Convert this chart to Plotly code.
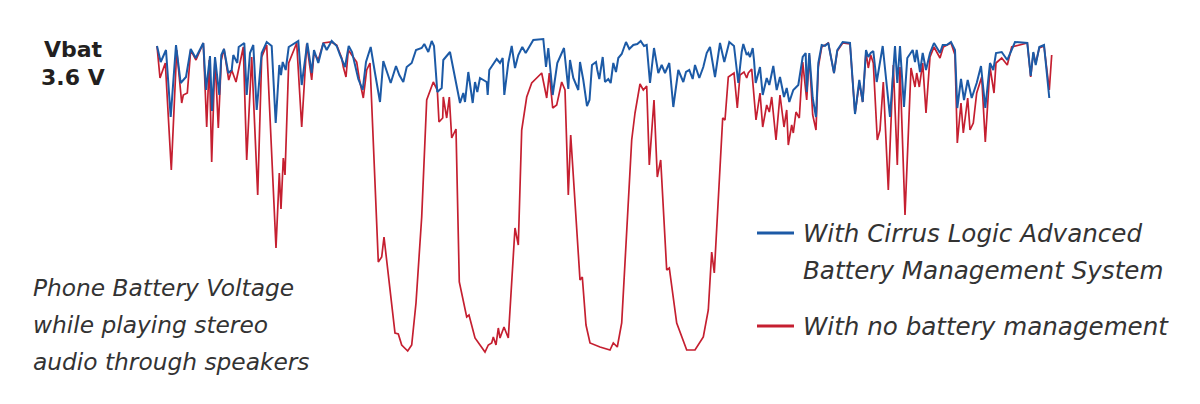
import plotly.graph_objects as go

# battery voltage traces
# t = sample position, sag = drop below the 3.6 V line (same arbitrary units)

bms_t = [
    157, 160.7, 166, 170.7, 176, 180.7, 186, 190.7, 195.7, 203.3, 206, 210, 212, 215, 219.3,
    221.3, 224, 228.3, 231.7, 233.3, 237.3, 238.7, 244.3, 246.7, 250, 253.3, 256.7, 261.7,
    266.7, 271.7, 275.7, 279.3, 281, 282.7, 285.7, 288.7, 298.3, 301.7, 307.3, 311.7, 314,
    318.3, 323.3, 326.7, 331.7, 336.7, 340, 345, 348.7, 352, 358.3, 362.7, 366, 370.7, 375,
    380, 383.3, 390.7, 396, 399.3, 403.3, 406.7, 411.7, 416, 421.7, 424.3, 428.3, 431.7, 434,
    437.3, 441.7, 443.3, 450, 455, 460, 463.3, 465, 468.3, 472.7, 475, 477.3, 480, 486.7,
    487.7, 489.3, 496.7, 500, 502.7, 504.3, 508.3, 511.7, 515, 518.3, 522.3, 525.7, 533.3,
    543.3, 546, 548.3, 550.7, 552.7, 557.3, 564, 568.3, 570, 573.3, 578.3, 580, 583.3, 587,
    589.5, 592, 596, 597.3, 599.3, 602.7, 605, 608.3, 610.7, 613.3, 616, 618.3, 621.7, 626,
    629.3, 633.3, 637.3, 640.7, 644, 646.7, 650, 654, 658.3, 661.7, 665, 669.3, 673.3, 678.3,
    683.3, 686, 689.3, 692.7, 695, 699.3, 703.3, 706.7, 710, 715, 720, 724.3, 729.3, 734,
    738.3, 741.7, 743.3, 746.7, 748.3, 750, 752.7, 754, 755.7, 760, 762.7, 766.7, 769.3,
    773.3, 776.7, 780, 784, 786.7, 789.3, 793.3, 798.3, 802.7, 805.7, 806.7, 809.3, 812.7,
    816, 818.3, 821.7, 825, 828.3, 834, 837.3, 842.7, 850, 855, 859.3, 862.7, 866, 868.3,
    870.7, 873.3, 876.7, 882.7, 890, 895, 897.3, 900, 904, 907.3, 912.7, 915, 916.7, 920,
    922.7, 926, 930, 934, 937.3, 940, 942.7, 946.7, 951, 955, 957.3, 961, 964, 967.7, 971.7,
    976.7, 981, 985.3, 990, 993.3, 996, 1001.7, 1007.3, 1015, 1027.3, 1030.7, 1033.3,
    1035.7, 1039.3, 1044, 1049.3,
]
bms_sag = [
    46, 62, 50, 117, 45, 83, 77, 49, 58, 43, 90, 56, 111, 57, 95,
    55, 49, 73, 70, 55, 63, 47, 43, 95, 53, 45, 110, 53,
    42, 46, 123, 65, 75, 62, 70, 47, 41, 85, 43, 73, 50,
    63, 43, 50, 41, 46, 55, 67, 46, 52, 79, 90, 62, 47, 73,
    102, 61, 83, 66, 75, 82, 67, 63, 50, 48, 44, 52, 41, 46,
    92, 88, 60, 52, 77, 103, 93, 102, 72, 103, 82, 92, 78, 82,
    95, 70, 59, 63, 58, 95, 63, 46, 68, 55, 47, 53, 40,
    39, 67, 48, 73, 95, 63, 48, 89, 60, 78, 90, 62, 80, 106,
    100, 65, 62, 70, 79, 57, 82, 79, 83, 63, 72, 58, 54, 42,
    49, 45, 44, 41, 46, 45, 83, 48, 73, 65, 73, 63, 107, 70,
    82, 72, 70, 79, 65, 78, 67, 53, 47, 77, 43, 62, 42, 46,
    83, 52, 44, 55, 53, 57, 48, 60, 83, 67, 95, 78, 85,
    66, 90, 77, 97, 88, 102, 90, 85, 57, 53, 92, 53, 98,
    117, 63, 45, 46, 43, 73, 50, 42, 43, 114, 80, 102, 50, 57,
    53, 51, 82, 46, 117, 46, 83, 46, 107, 58, 50, 62, 50, 72,
    53, 70, 53, 43, 48, 53, 45, 45, 42, 50, 108, 79, 100, 80, 98,
    83, 66, 108, 63, 70, 53, 52, 60, 42, 43, 76, 52,
    65, 47, 45, 98,
]

none_t = [
    157, 160, 165.3, 171.3, 176.7, 181.7, 183.3, 187.3, 190.7, 196, 203.3, 206.7, 209.3,
    211.7, 215, 218.3, 221.3, 224, 228.7, 231.7, 236, 243.3, 246.7, 251.7, 257.7, 261.7,
    266.7, 276, 279.3, 281, 283.3, 285, 288.7, 296.7, 301.7, 306.7, 311.7, 314, 318.3, 323.3,
    331, 336.7, 341.7, 343.3, 346, 348.3, 356.7, 359.3, 363.3, 366.7, 370, 378.3, 381.7, 384,
    395, 398.3, 401.7, 407.7, 411.7, 416, 421.7, 426.7, 433.3, 437.3, 439, 442.7, 443.3,
    446.7, 449.3, 451.7, 456, 459.3, 466.7, 469, 475, 485, 488.3, 491.7, 493.3, 496, 498.3,
    500, 504, 508.3, 515, 518.3, 521.7, 526.7, 531.7, 541.7, 546.7, 549.3, 552.7, 556.7,
    561.7, 565, 568.3, 570.7, 580, 582.3, 586, 590, 600, 610, 613.3, 617.3, 621.7, 626.7,
    631.7, 635, 640, 643.3, 646.7, 649.3, 654, 657.3, 660.7, 666.7, 669.3, 676.7, 686.7, 695,
    703.3, 708.3, 711.7, 714.3, 720, 722.7, 725, 728.3, 734, 737.3, 740, 744, 746.7, 748.3,
    751.7, 753.3, 756, 760, 762.7, 766.7, 769.3, 771.7, 776, 780, 784, 786.7, 788.3, 791.7,
    793.3, 796, 799.3, 802.7, 806.7, 809.3, 812.7, 816, 818.3, 821.7, 828.3, 834, 837.3,
    842.7, 850, 855, 859.3, 862.7, 866, 868.3, 870.7, 873.3, 877.3, 880, 883.3, 888.3, 893.3,
    897.3, 900, 905, 911, 915, 916.7, 919.3, 922.7, 926, 930, 934, 940, 943.3, 951, 955,
    957.3, 961, 963.3, 967.7, 970, 973.3, 976.7, 981.7, 985.3, 990, 994, 996, 1001.7, 1007.3,
    1011.7, 1027.3, 1030.7, 1033.3, 1035.7, 1039.3, 1044, 1049.3, 1051.7,
]
none_sag = [
    46, 78, 63, 170, 50, 103, 95, 93, 50, 60, 43, 127, 60,
    162, 57, 128, 60, 49, 80, 70, 82, 47, 160, 57, 195, 57,
    45, 248, 173, 209, 158, 175, 63, 43, 127, 44, 80, 53, 60, 43,
    42, 45, 58, 67, 77, 50, 62, 79, 98, 70, 63, 262, 257, 237,
    333, 334, 345, 351, 345, 303, 217, 100, 82, 90, 122, 118, 97,
    118, 97, 138, 129, 282, 317, 315, 338, 352, 345, 343, 337, 345, 328,
    338, 327, 338, 228, 245, 130, 97, 83, 73, 98, 73, 108, 105,
    82, 90, 195, 135, 280, 277, 325, 343, 347, 350, 343, 347, 323, 230,
    140, 113, 84, 90, 86, 165, 100, 177, 160, 270, 268, 323, 350, 350,
    337, 310, 252, 273, 173, 118, 120, 77, 73, 108, 75, 72, 78, 73,
    69, 90, 120, 93, 127, 105, 112, 97, 140, 95, 127, 110, 145, 125,
    133, 112, 118, 62, 100, 55, 115, 130, 67, 47, 43, 73, 51,
    43, 44, 114, 83, 102, 52, 68, 55, 63, 140, 130, 82, 190, 65,
    165, 67, 215, 68, 87, 73, 87, 63, 113, 57, 47, 58, 47, 43, 55,
    143, 103, 133, 98, 130, 123, 93, 77, 142, 67, 93, 63, 58, 65,
    47, 43, 77, 53, 63, 48, 46, 90, 55,
]

vbat_lines = ['Vbat', '3.6 V']
caption_lines = [
    'Phone Battery Voltage',
    'while playing stereo',
    'audio through speakers',
]
bms_label = ['With Cirrus Logic Advanced', 'Battery Management System']
none_label = ['With no battery management']

BLUE = '#1c5aa6'
RED = '#c51f30'
INK = '#231f20'
FONT = 'DejaVu Sans'
W, H = 1200, 404
OFF = 8   # the page body has an 8px margin


def px(x, y):
    # window pixel -> paper coords
    return (x - OFF) / W, 1 - (y - OFF) / H


fig = go.Figure()

fig.add_trace(go.Scatter(x=none_t, y=none_sag, mode='lines',
                         line=dict(color=RED, width=1.7), name='none'))
fig.add_trace(go.Scatter(x=bms_t, y=bms_sag, mode='lines',
                         line=dict(color=BLUE, width=2), name='bms'))

ann = []


def label(x, y, text, size, color, anchor='left', weight='normal'):
    ax, ay = px(x, y)
    ann.append(dict(x=ax, y=ay, xref='paper', yref='paper', text=text,
                    showarrow=False, xanchor=anchor, yanchor='middle',
                    font=dict(family=FONT, size=size, color=color, weight=weight)))


# Vbat label
for i, line in enumerate(vbat_lines):
    label(73, 50 + i * 27, '<b>' + line + '</b>', 22, INK, 'center')

# caption
for i, line in enumerate(caption_lines):
    label(31, 287 + i * 37, '<i>' + line + '</i>', 23.3, '#333', weight=300)

# hand made legend
shapes = []
for y, col, lines in [(233, BLUE, bms_label), (326, RED, none_label)]:
    x0, y0 = px(757, y)
    x1, _ = px(794, y)
    shapes.append(dict(type='line', xref='paper', yref='paper', x0=x0, x1=x1,
                       y0=y0, y1=y0, line=dict(color=col, width=3)))
    for j, line in enumerate(lines):
        label(801, y + j * 37, '<i>' + line + '</i>', 24.6, '#333', weight=300)

fig.update_layout(
    width=W, height=H,
    margin=dict(l=0, r=0, t=0, b=0),
    paper_bgcolor='white', plot_bgcolor='white',
    showlegend=False,
    xaxis=dict(range=[OFF, W + OFF], visible=False, fixedrange=True),
    yaxis=dict(range=[H + OFF, OFF], visible=False, fixedrange=True),
    annotations=ann,
    shapes=shapes,
)

fig.write_html('out.html')
